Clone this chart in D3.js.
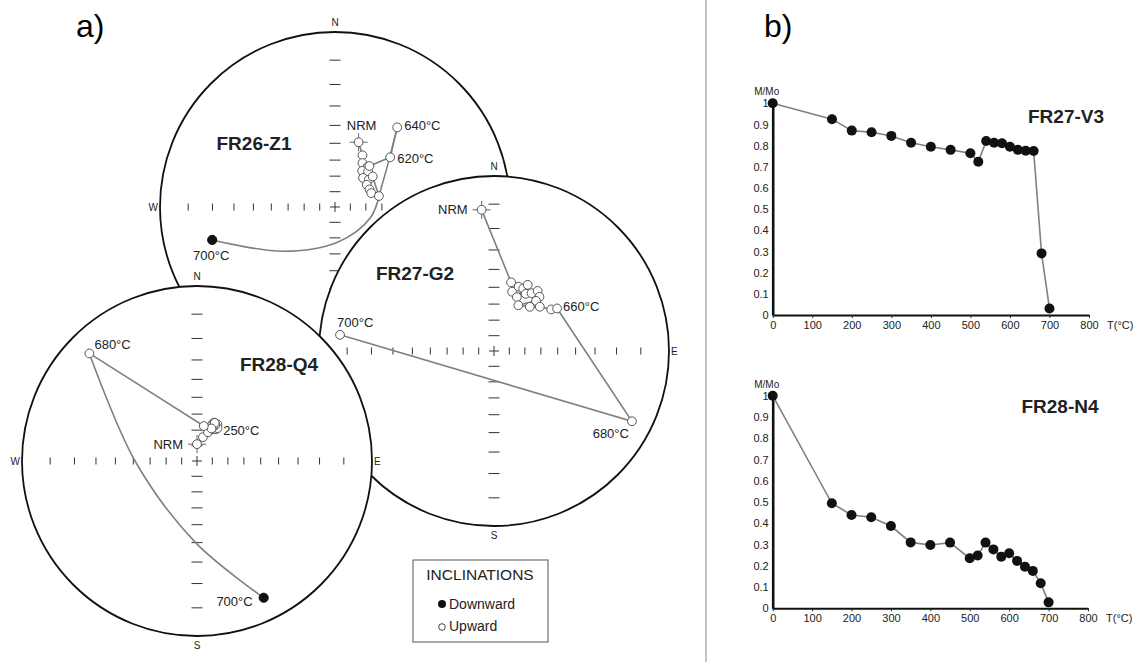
<!DOCTYPE html>
<html>
<head>
<meta charset="utf-8">
<script src="https://cdn.jsdelivr.net/npm/d3@7"></script>
<style>
  body { margin: 0; background: #fff; }
  svg { display: block; font-family: "Liberation Sans", Arial, sans-serif; }
</style>
</head>
<body>
<div id="chart"></div>
<script>
// --- DATA ---
// stereonet tick inclinations (deg)
const tickIncs = [10, 20, 30, 40, 50, 60, 70, 80];

// FR26-Z1 : declination / inclination per step (negative inc = upward)
const z1Steps = ["NRM", 150, 200, 250, 300, 350, 400, 450, 500, 520, 540, 560, 580, 600, 620, 640, 700];
const z1Dec = [20, 28, 32, 39, 37, 43, 44, 51, 55, 63, 69, 76, 51, 40, 48, 38, 255];
const z1Inc = [-47, -53, -57, -57, -61, -59, -64, -62, -65, -65, -65, -61, -59, -56, -44, -30, 18];
// trace of the 640 -> 700 °C link
const z1TraceDec = [63, 106, 177, 230];
const z1TraceInc = [56, 66, 67, 47];

// FR27-G2
const g2Steps = ["NRM", 150, 200, 250, 300, 350, 400, 450, 500, 520, 540, 560, 580, 600, 620, 640, 660, 680, 700];
const g2Dec = [355, 14, 17, 21, 25, 23, 27, 29, 33, 36, 40, 40, 28, 39, 46, 54, 56, 117, 276];
const g2Inc = [-12, -46, -51, -47, -47, -53, -44, -49, -47, -44, -46, -49, -57, -54, -50, -46, -43, -7, -7];

// FR28-Q4
const q4Steps = ["NRM", 150, 200, 250, 300, 350, 400, 450, 500, 520, 540, 560, 580, 600, 620, 640, 660, 680, 700];
const q4Dec = [0, 14, 21, 27, 27, 23, 29, 22, 31, 24, 32, 23, 27, 25, 25, 24, 11, 315, 154];
const q4Inc = [-79, -74, -70, -67, -65, -64, -63, -66, -66, -63, -65, -65, -64, -66, -63, -67, -67, -8, 8];
const q4TraceDec = [270, 181];
const q4TraceInc = [51, 40];

// thermal demagnetisation curves
const demagTemps = [0, 150, 200, 250, 300, 350, 400, 450, 500, 520, 540, 560, 580, 600, 620, 640, 660, 680, 700];
const v3M = [1.0, 0.925, 0.871, 0.863, 0.846, 0.814, 0.795, 0.780, 0.764, 0.724, 0.822, 0.814, 0.811, 0.795, 0.780, 0.776, 0.775, 0.291, 0.031];
const n4M = [1.0, 0.494, 0.439, 0.428, 0.387, 0.310, 0.298, 0.309, 0.235, 0.248, 0.309, 0.277, 0.243, 0.259, 0.223, 0.196, 0.176, 0.118, 0.028];
const tempTicks = [0, 100, 200, 300, 400, 500, 600, 700, 800];
const mTicks = d3.range(11).map((i) => i / 10);

// --- SETUP ---
const W = 1143, H = 667;
const R = 175;
const svg = d3.select("#chart").append("svg").attr("width", W).attr("height", H);

const lineGray = "#808080";
const rScale = d3.scaleLinear().domain([0, 1]).range([0, R]);
const toRad = Math.PI / 180;

// panel letters + divider
svg.append("text").attr("x", 76).attr("y", 37).attr("font-size", 32).text("a)");
svg.append("text").attr("x", 764).attr("y", 37).attr("font-size", 32).text("b)");
svg.append("line").attr("x1", 706).attr("x2", 706).attr("y1", 0).attr("y2", 662)
  .attr("stroke", "#888").attr("stroke-width", 1);

// --- STEREONETS ---
function drawNet(cfg) {
  const g = svg.append("g");
  const { cx, cy } = cfg;
  const proj = (dec, inc) => {
    const r = rScale(Math.tan(((90 - Math.abs(inc)) / 2) * toRad));
    return [cx + r * Math.sin(dec * toRad), cy - r * Math.cos(dec * toRad)];
  };

  g.append("circle").attr("cx", cx).attr("cy", cy).attr("r", R)
    .attr("fill", "#fff").attr("stroke", "#111").attr("stroke-width", 1.8);

  // axis ticks
  tickIncs.forEach((inc) => {
    const r = rScale(Math.tan(((90 - inc) / 2) * toRad));
    [-1, 1].forEach((s) => {
      g.append("line").attr("x1", cx + s * r).attr("x2", cx + s * r)
        .attr("y1", cy - 3.5).attr("y2", cy + 3.5).attr("stroke", "#333").attr("stroke-width", 1);
      g.append("line").attr("x1", cx - 5.5).attr("x2", cx + 5.5)
        .attr("y1", cy + s * r).attr("y2", cy + s * r).attr("stroke", "#333").attr("stroke-width", 1);
    });
  });
  g.append("path").attr("d", `M${cx - 5},${cy}H${cx + 5}M${cx},${cy - 5}V${cy + 5}`)
    .attr("stroke", "#333").attr("stroke-width", 1);

  // cardinal labels (only those not hidden by the next net)
  const card = g.append("g").attr("font-size", 10).attr("fill", "#222");
  const cardPos = {
    N: [cx, cy - R - 6, "middle"], S: [cx, cy + R + 13, "middle"],
    W: [cx - R - 2, cy + 4, "end"], E: [cx + R + 2, cy + 4, "start"]
  };
  cfg.cardinals.forEach((c) => {
    const [x, y, a] = cardPos[c];
    card.append("text").attr("x", x).attr("y", y).attr("text-anchor", a).text(c);
  });

  // path
  const pts = cfg.dec.map((d, i) => proj(d, cfg.inc[i]));
  const cut = cfg.trace ? cfg.trace.from : pts.length - 1;
  g.append("path").attr("d", d3.line()(pts.slice(0, cut + 1)))
    .attr("fill", "none").attr("stroke", lineGray).attr("stroke-width", 1.6);
  if (cfg.trace) {
    const tr = cfg.trace.dec.map((d, i) => proj(d, cfg.trace.inc[i]));
    const curvePts = [pts[cut], ...tr, pts[cut + 1]];
    g.append("path").attr("d", d3.line().curve(d3.curveCatmullRom.alpha(0.5))(curvePts))
      .attr("fill", "none").attr("stroke", lineGray).attr("stroke-width", 1.6);
  }

  // NRM crosshair
  const [nx, ny] = pts[0];
  g.append("path").attr("d", `M${nx - 9},${ny}H${nx + 9}M${nx},${ny - 9}V${ny + 9}`)
    .attr("stroke", "#666").attr("stroke-width", 1);

  // points
  g.selectAll("circle.pt").data(pts).enter().append("circle").attr("class", "pt")
    .attr("cx", (d) => d[0]).attr("cy", (d) => d[1])
    .attr("r", (d, i) => (cfg.inc[i] > 0 ? 4.6 : 4.4))
    .attr("fill", (d, i) => (cfg.inc[i] > 0 ? "#111" : "#fff"))
    .attr("stroke", (d, i) => (cfg.inc[i] > 0 ? "#111" : "#555"))
    .attr("stroke-width", 1);

  // step labels
  Object.entries(cfg.labels).forEach(([step, [dx, dy, anchor]]) => {
    const idx = cfg.steps.findIndex((s) => String(s) === step);
    const [px, py] = pts[idx];
    g.append("text").attr("x", px + dx).attr("y", py + dy).attr("dy", "0.35em")
      .attr("text-anchor", anchor).attr("font-size", 13).attr("fill", "#222")
      .text(step === "NRM" ? "NRM" : step + "°C");
  });

  g.append("text").attr("x", cx + cfg.titleDx).attr("y", cy + cfg.titleDy).attr("dy", "0.35em")
    .attr("text-anchor", "middle").attr("font-size", 19).attr("font-weight", "bold")
    .attr("fill", "#222").text(cfg.title);
}

drawNet({
  cx: 335, cy: 207, title: "FR26-Z1", titleDx: -81, titleDy: -64, cardinals: ["N", "W"],
  steps: z1Steps, dec: z1Dec, inc: z1Inc,
  trace: { from: z1Steps.indexOf(640), dec: z1TraceDec, inc: z1TraceInc },
  labels: { NRM: [3, -17, "middle"], 620: [7, 1, "start"], 640: [7, -2, "start"], 700: [-1, 16, "middle"] }
});
drawNet({
  cx: 494, cy: 351, title: "FR27-G2", titleDx: -79, titleDy: -78, cardinals: ["N", "E", "S"],
  steps: g2Steps, dec: g2Dec, inc: g2Inc,
  labels: { NRM: [-14, 0, "end"], 660: [6, -2, "start"], 680: [-3, 12, "end"], 700: [-3, -12, "start"] }
});
drawNet({
  cx: 197, cy: 461, title: "FR28-Q4", titleDx: 82, titleDy: -97, cardinals: ["N", "W", "E", "S"],
  steps: q4Steps, dec: q4Dec, inc: q4Inc,
  trace: { from: q4Steps.indexOf(680), dec: q4TraceDec, inc: q4TraceInc },
  labels: { NRM: [-14, 0, "end"], 250: [10, 1, "start"], 680: [5, -9, "start"], 700: [-11, 4, "end"] }
});

// legend
const lg = svg.append("g");
lg.append("rect").attr("x", 413).attr("y", 560).attr("width", 135).attr("height", 82)
  .attr("fill", "#fff").attr("stroke", "#555").attr("stroke-width", 1);
lg.append("text").attr("x", 480).attr("y", 580).attr("text-anchor", "middle")
  .attr("font-size", 15.5).attr("fill", "#222").text("INCLINATIONS");
lg.append("circle").attr("cx", 442).attr("cy", 604).attr("r", 4).attr("fill", "#111");
lg.append("text").attr("x", 449).attr("y", 609).attr("font-size", 14).attr("fill", "#222").text("Downward");
lg.append("circle").attr("cx", 442).attr("cy", 627).attr("r", 3.3).attr("fill", "#fff")
  .attr("stroke", "#444").attr("stroke-width", 1);
lg.append("text").attr("x", 449).attr("y", 631).attr("font-size", 14).attr("fill", "#222").text("Upward");

// --- DEMAG PLOTS ---
function drawDemag(cfg) {
  const x = d3.scaleLinear().domain([0, 800]).range([cfg.x0, cfg.x1]);
  const y = d3.scaleLinear().domain([0, 1]).range([cfg.y0, cfg.y1]);
  const g = svg.append("g");

  const xa = g.append("g").attr("transform", `translate(0,${cfg.y0})`)
    .call(d3.axisBottom(x).tickValues(tempTicks).tickSizeInner(3).tickSizeOuter(0).tickPadding(3));
  const ya = g.append("g").attr("transform", `translate(${cfg.x0},0)`)
    .call(d3.axisLeft(y).tickValues(mTicks).tickSize(0).tickPadding(4)
      .tickFormat((d) => String(d)));
  [xa, ya].forEach((a) => {
    a.attr("font-family", null).attr("font-size", 11);
    a.selectAll("text").attr("fill", "#222");
    a.selectAll("line").attr("stroke", "#222");
  });
  xa.select(".domain").attr("stroke", "#111").attr("stroke-width", 2);
  ya.select(".domain").attr("stroke", "#111").attr("stroke-width", 2.6);

  g.append("text").attr("x", cfg.x0 - 6).attr("y", cfg.y1 - 8).attr("text-anchor", "middle")
    .attr("font-size", 10).attr("fill", "#222").text("M/Mo");
  g.append("text").attr("x", cfg.x1 + 18).attr("y", cfg.y0 + 14).attr("font-size", 11)
    .attr("fill", "#222").text("T(°C)");

  const pts = demagTemps.map((t, i) => [x(t), y(cfg.m[i])]);
  g.append("path").attr("d", d3.line()(pts)).attr("fill", "none")
    .attr("stroke", lineGray).attr("stroke-width", 1.6);
  g.selectAll("circle").data(pts).enter().append("circle")
    .attr("cx", (d) => d[0]).attr("cy", (d) => d[1]).attr("r", 5).attr("fill", "#111");

  g.append("text").attr("x", cfg.titleX).attr("y", cfg.titleY).attr("dy", "0.35em")
    .attr("text-anchor", "middle").attr("font-size", 19).attr("font-weight", "bold")
    .attr("fill", "#222").text(cfg.title);
}

drawDemag({ x0: 772.7, x1: 1089, y0: 315, y1: 103.3, m: v3M, title: "FR27-V3", titleX: 1066, titleY: 116 });
drawDemag({ x0: 772.7, x1: 1088, y0: 608.3, y1: 395.7, m: n4M, title: "FR28-N4", titleX: 1060, titleY: 406 });
</script>
</body>
</html>
